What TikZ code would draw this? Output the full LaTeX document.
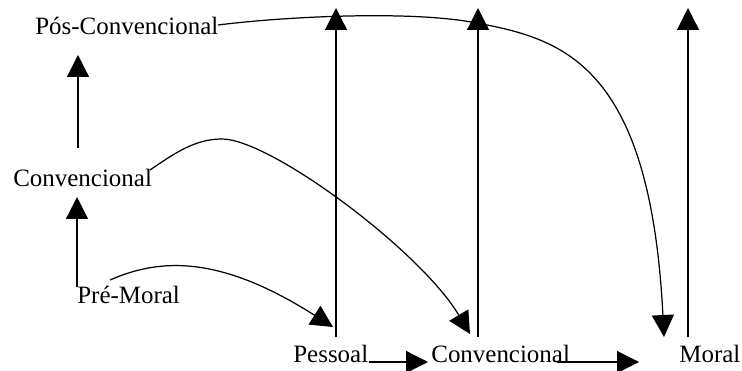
\documentclass[tikz,border=0pt]{standalone}
\usepackage{fontspec}
\setmainfont{Liberation Serif}
\usetikzlibrary{positioning,arrows.meta,calc}

\begin{document}
\begin{tikzpicture}[
    x=0.02cm, y=-0.02cm,
    lbl/.style={
        inner sep=0pt,
        anchor=base west,
        font=\fontsize{14.2}{17}\selectfont
    },
    arr/.style={
        -{Triangle[length=4.4mm,width=4.4mm]},
        line width=0.7pt
    }
]
\useasboundingbox (0,0) rectangle (742,371);

% left column
\node[lbl] (poscon) at (35,35) {Pós-Convencional};
\node[lbl] (conv) at (13,186) {Convencional};
\node[lbl] (premoral) at (77,303) {Pré-Moral};

% bottom row
\node[lbl] (pessoal) at (293,362) {Pessoal};
\node[lbl] (convb) at (431,362) {Convencional};
\node[lbl] (moral) at (679,362) {Moral};

\coordinate (pessoaltop) at (336,8);
\coordinate (convbtop) at (478,8);
\coordinate (moraltop) at (688,8);

\draw[arr] ($(conv.base west)+(65,-38)$) -- ($(poscon.base west)+(43,20)$);
\draw[arr] ($(premoral.base west)+(0,-16)$) -- ($(conv.base west)+(64,11)$);

\draw[arr] ($(premoral.base west)+(33,-23)$)
    .. controls +(50,-22) and +(-113,-72) .. ($(pessoal.base west)+(40,-35)$);
\draw[arr] ($(conv.base west)+(137,-16)$)
    .. controls (175,153) and (195,139) .. (222,139)
    .. controls (270,139) and (420,250) .. ($(convb.base west)+(39,-28)$);
\draw[arr] ($(poscon.base west)+(183,-10)$)
    .. controls (290,16) and (409,11) .. (471,22)
    .. controls (560,38) and (650,60) .. ($(moral.base west)+(-15,-25)$);

\draw[arr] ($(pessoal.base west)+(43,-25)$) -- (pessoaltop);
\draw[arr] ($(convb.base west)+(47,-25)$) -- (convbtop);
\draw[arr] ($(moral.base west)+(9,-25)$) -- (moraltop);

\draw[arr] (pessoal.base east) -- ($(convb.base west)+(-3,0)$);
\draw[arr] ($(convb.base east)+(-13,0)$) -- ($(moral.base west)+(-40,0)$);

\end{tikzpicture}
\end{document}
